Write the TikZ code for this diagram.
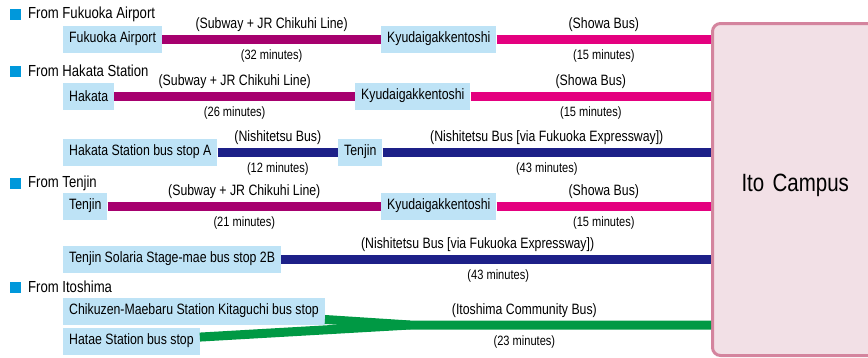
\documentclass[tikz,border=0pt]{standalone}
\usepackage{fontspec}
\setmainfont{Liberation Sans}[FakeStretch=0.82]
\usetikzlibrary{positioning,calc}
\definecolor{stopblue}{HTML}{BEE3F6}
\definecolor{jrline}{HTML}{A6006E}
\definecolor{showaline}{HTML}{E4007F}
\definecolor{nishiline}{HTML}{1D2088}
\definecolor{itoline}{HTML}{009944}
\definecolor{headblue}{HTML}{0098DB}
\definecolor{campusfill}{HTML}{F2E0E6}
\definecolor{campusedge}{HTML}{D4849E}
\tikzset{
  stop/.style={fill=stopblue,anchor=west,minimum height=27pt,inner xsep=6pt,inner ysep=0pt,font=\fontsize{15}{16}\selectfont},
  route/.style={line width=9pt},
  jr/.style={route,jrline},
  showa/.style={route,showaline},
  nishi/.style={route,nishiline},
  ito/.style={route,itoline,line join=round},
  up/.style={above=2pt,inner sep=1pt,text=black,font=\fontsize{15}{16}\selectfont},
  down/.style={below=5pt,inner sep=1pt,text=black,font=\fontsize{13.5}{14}\selectfont},
  head/.style={anchor=west,inner sep=0pt,font=\fontsize{16}{17}\selectfont},
  sq/.style={fill=headblue,minimum size=11pt,inner sep=0pt},
}
\begin{document}
\begin{tikzpicture}[x=1pt,y=-1pt]
\useasboundingbox (0,0) rectangle (868,357);
% campus
\node[draw=campusedge,fill=campusfill,line width=3pt,rounded corners=8pt,anchor=north west,
  minimum height=332pt,text width=130pt,inner xsep=29pt,align=left,text depth=14pt,font=\fontsize{25}{27}\selectfont] (campus) at (711,22) {Ito Campus};
% headers
\node[sq] (sq1) at (15.5,14) {};
\node[head] (h1) at (28,14) {From Fukuoka Airport};
\node[sq] (sq2) at (15.5,71) {};
\node[head] (h2) at (28,71) {From Hakata Station};
\node[sq] (sq3) at (15.5,183) {};
\node[head] (h3) at (28,183) {From Tenjin};
\node[sq] (sq4) at (15.5,287) {};
\node[head] (h4) at (28,287) {From Itoshima};
% stops
\node[stop] (fa) at (63,39) {Fukuoka Airport};
\node[stop] (kyu1) at (381,39) {Kyudaigakkentoshi};
\node[stop] (hakata) at (63,96) {Hakata};
\node[stop] (kyu2) at (355,96) {Kyudaigakkentoshi};
\node[stop] (busA) at (63,152) {Hakata Station bus stop A};
\node[stop] (tenjin1) at (338,152) {Tenjin};
\node[stop] (tenjin2) at (63,206) {Tenjin};
\node[stop] (kyu3) at (381,206) {Kyudaigakkentoshi};
\node[stop] (solaria) at (63,259) {Tenjin Solaria Stage-mae bus stop 2B};
\node[stop] (chiku) at (63,311) {Chikuzen-Maebaru Station Kitaguchi bus stop};
\node[stop] (hatae) at (63,341) {Hatae Station bus stop};
\coordinate (join) at (410,325);
% routes
\draw[jr] (fa) -- node[up]{(Subway + JR Chikuhi Line)} node[down]{(32 minutes)} (kyu1);
\draw[showa] (kyu1) -- node[up]{(Showa Bus)} node[down]{(15 minutes)} (kyu1 -| campus.west);
\draw[jr] (hakata) -- node[up]{(Subway + JR Chikuhi Line)} node[down]{(26 minutes)} (kyu2);
\draw[showa] (kyu2) -- node[up]{(Showa Bus)} node[down]{(15 minutes)} (kyu2 -| campus.west);
\draw[nishi] (busA) -- node[up]{(Nishitetsu Bus)} node[down]{(12 minutes)} (tenjin1);
\draw[nishi] (tenjin1) -- node[up]{(Nishitetsu Bus [via Fukuoka Expressway])} node[down]{(43 minutes)} (tenjin1 -| campus.west);
\draw[jr] (tenjin2) -- node[up]{(Subway + JR Chikuhi Line)} node[down]{(21 minutes)} (kyu3);
\draw[showa] (kyu3) -- node[up]{(Showa Bus)} node[down]{(15 minutes)} (kyu3 -| campus.west);
\draw[nishi] (solaria) -- node[up,pos=0.457]{(Nishitetsu Bus [via Fukuoka Expressway])} node[down,pos=0.505]{(43 minutes)} (solaria -| campus.west);
\draw[ito] (chiku) -- (join) -- node[up,pos=0.38]{(Itoshima Community Bus)} node[down,pos=0.38]{(23 minutes)} (join -| campus.west);
\draw[ito] (hatae) -- (join);
\end{tikzpicture}
\end{document}
